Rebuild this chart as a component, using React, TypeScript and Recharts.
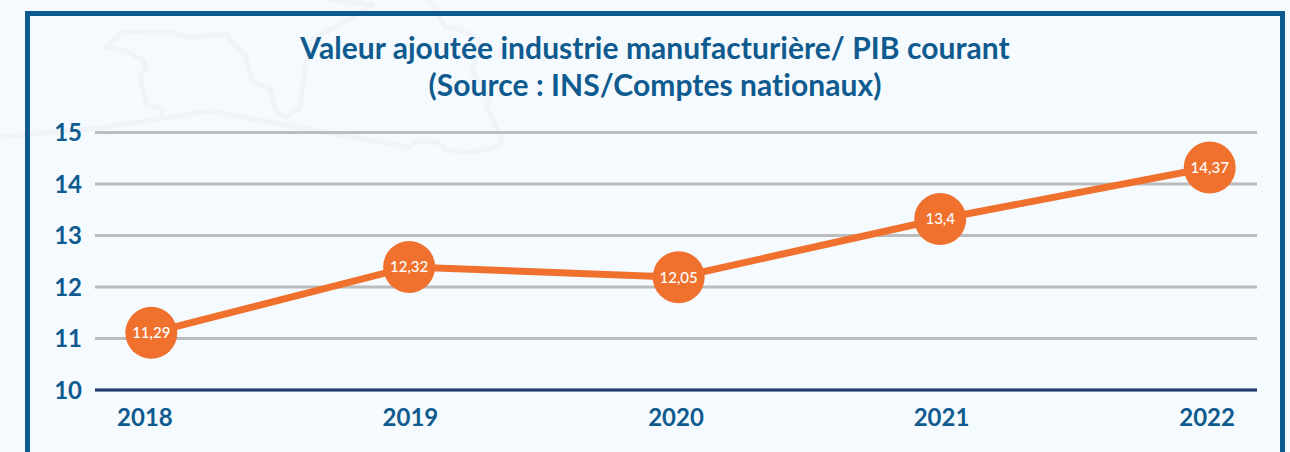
import React from 'react';
import { LineChart, Line, XAxis, YAxis, CartesianGrid, LabelList } from 'recharts';

// plotted positions, the printed labels don't sit exactly on the scale
const xPositions = [2018.024, 2018.995, 2020.01, 2020.995, 2022.01];
const plotted = [11.11, 12.39, 12.19, 13.32, 14.32];
const valueLabels = ['11,29', '12,32', '12,05', '13,4', '14,37'];
const years = [2018, 2019, 2020, 2021, 2022];
const yTicks = [10, 11, 12, 13, 14, 15];

const chartData = xPositions.map((x, i) => ({ x, value: plotted[i], label: valueLabels[i] }));

const FONT = 'Lato, "Noto Sans", sans-serif';
const BLUE = '#0f5a8e';
const ORANGE = '#ef712d';

export default function App() {
  return (
    <div style={{ position: 'absolute', left: 0, top: 0, width: 1290, height: 452, background: '#f5faff', overflow: 'hidden' }}>
      {/* faint map outline behind the chart */}
      <svg width={1290} height={452} style={{ position: 'absolute', left: 0, top: 0 }}>
        <path
          d="M0 137 Q30 134 100 128 L210 111 L340 135 L410 147 L416 142 L438 142 L446 150 L470 152 L495 148 L503 140 L495 125 L485 105 L490 98 L472 72 L480 40 L460 30 L445 27 L430 0 M122 32 L105 47 L125 50 L143 60 L147 68 L140 77 L147 105 L162 108 L163 117 M122 32 L175 33 L190 38 L225 34 L245 55 L252 82 L270 88 L275 110 L285 117 L300 108 L305 70 L310 40 L345 22 L372 5 L330 0"
          fill="none"
          stroke="#f0f4f8"
          strokeWidth={5}
          strokeLinejoin="round"
          strokeLinecap="round"
        />
      </svg>
      <div style={{ position: 'absolute', left: 25, top: 11, width: 1260, height: 460, boxSizing: 'border-box', border: `5px solid ${BLUE}` }} />
      <div style={{ position: 'absolute', left: 0, top: 29, width: 1310, textAlign: 'center', fontFamily: FONT, fontWeight: 700, fontSize: 30, letterSpacing: 0.05, lineHeight: '37px', color: BLUE }}>
        Valeur ajoutée industrie manufacturière/ PIB courant
        <br />
        (Source : INS/Comptes nationaux)
      </div>
      <div style={{ position: 'absolute', left: 0, top: 0 }}>
        <LineChart width={1290} height={452} data={chartData} margin={{ top: 132.5, right: 33, bottom: 0, left: 0 }}>
          <CartesianGrid horizontal vertical={false} stroke="#bcbcbc" strokeWidth={3} />
          <XAxis
            dataKey="x"
            type="number"
            domain={[2017.812, 2022.188]}
            ticks={years}
            tickFormatter={(v: number) => String(v)}
            height={62}
            tickLine={false}
            tickSize={0}
            tickMargin={19}
            stroke="#1e3d70"
            strokeWidth={3}
            tick={{ fill: BLUE, fontSize: 24, fontFamily: FONT, fontWeight: 700 }}
          />
          <YAxis
            type="number"
            domain={[10, 15]}
            ticks={yTicks}
            width={95}
            axisLine={false}
            tickLine={false}
            tickSize={0}
            tickMargin={13}
            tick={{ fill: BLUE, fontSize: 24, fontFamily: FONT, fontWeight: 700 }}
          />
          <Line
            dataKey="value"
            stroke={ORANGE}
            strokeWidth={7}
            dot={{ r: 26, fill: ORANGE, stroke: 'none' }}
            isAnimationActive={false}
          >
            <LabelList dataKey="label" position="center" fill="#ffffff" fontSize={15} fontFamily={FONT} fontWeight={500} />
          </Line>
        </LineChart>
      </div>
    </div>
  );
}
